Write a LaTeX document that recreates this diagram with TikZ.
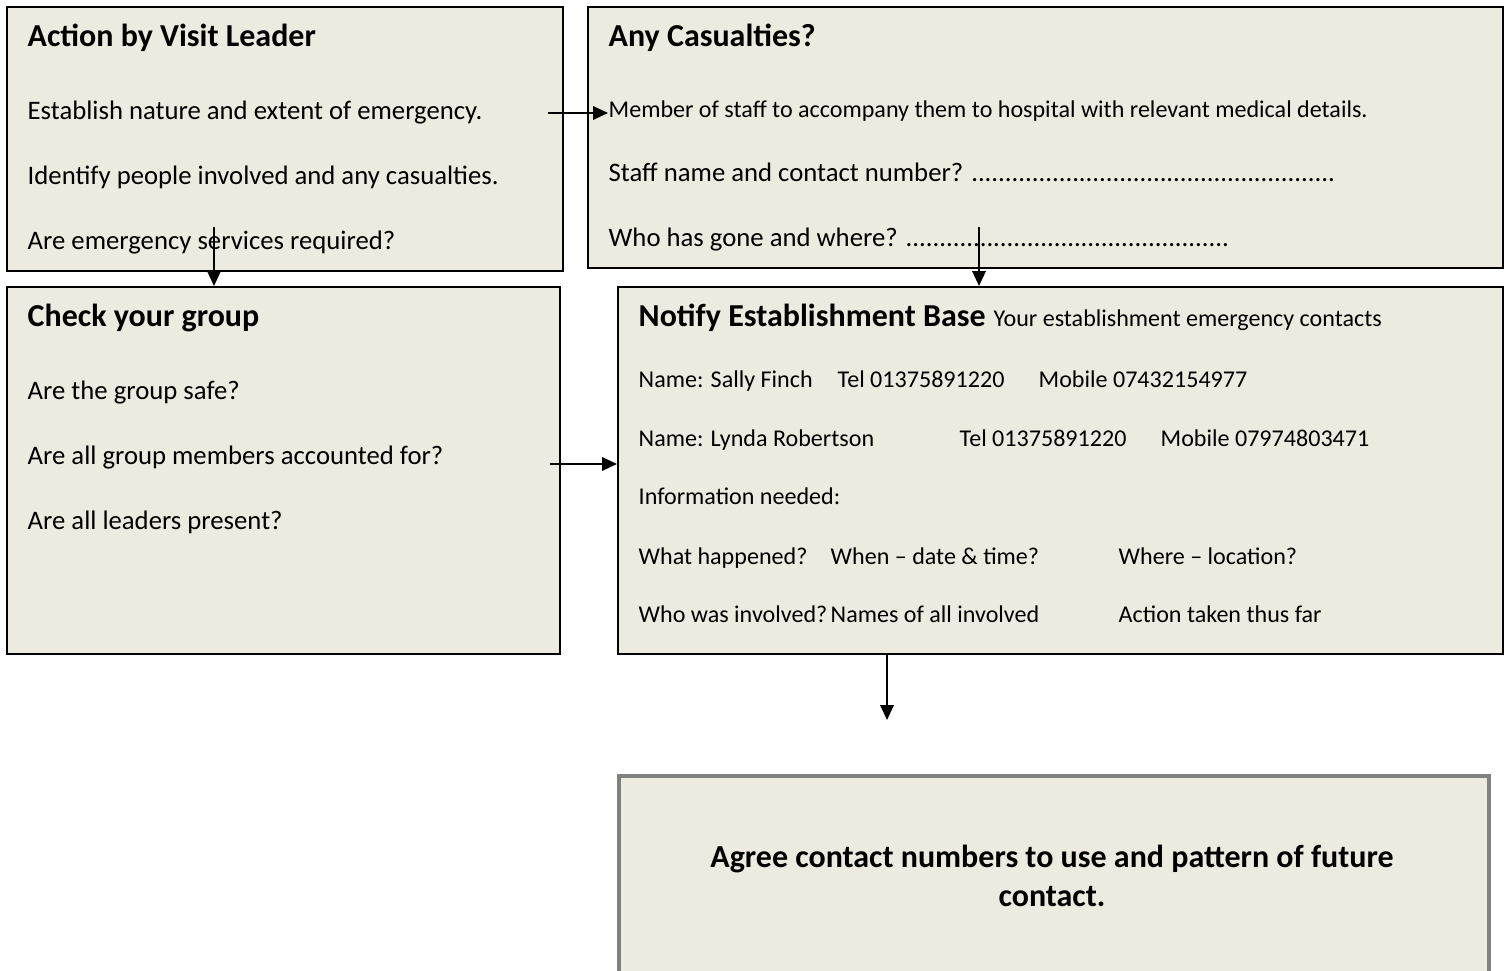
\documentclass[tikz,border=0pt]{standalone}
\usepackage{fontspec}
\setmainfont{Carlito}
\usetikzlibrary{arrows, arrows.meta}
\definecolor{boxfill}{RGB}{237,234,224}
\tikzstyle{box} =[rectangle, anchor=north west, draw=black, line width=0.7pt, fill=boxfill, inner sep=0pt]
\tikzstyle{greybox} =[rectangle, anchor=north west, draw=gray, line width=1.1pt, fill=boxfill, inner sep=0pt]
\tikzstyle{head} =[anchor=base west, inner sep=0pt, font=\bfseries\fontsize{9.1}{10.9}\selectfont]
\tikzstyle{bodytxt} =[anchor=base west, inner sep=0pt, font=\fontsize{7.6}{9.1}\selectfont]
\tikzstyle{smalltxt} =[anchor=base west, inner sep=0pt, font=\fontsize{6.85}{8.2}\selectfont]
\tikzstyle{arrow} =[line width=0.45pt,-{Triangle[length=4.2pt,width=3.8pt]}]
\begin{document}
\begin{tikzpicture}
\useasboundingbox (0,0) rectangle (15.07,-9.71);
\node (lead) [box, minimum width=5.56cm, minimum height=2.64cm] at (0.06,-0.06) {};
\node (cas) [box, minimum width=9.15cm, minimum height=2.61cm] at (5.87,-0.06) {};
\node (chk) [box, minimum width=5.53cm, minimum height=3.67cm] at (0.06,-2.86) {};
\node (note) [box, minimum width=8.85cm, minimum height=3.67cm] at (6.17,-2.86) {};
\node (agree) [greybox, minimum width=8.70cm, minimum height=2.4cm] at (6.17,-7.74) {};
\node (leadh) [head] at (0.27,-0.47) {Action by Visit Leader};
\node (lead1) [bodytxt] at (0.27,-1.20) {Establish nature and extent of emergency.};
\node (lead2) [bodytxt] at (0.27,-1.85) {Identify people involved and any casualties.};
\node (lead3) [bodytxt] at (0.27,-2.50) {Are emergency services required?};
\node (cash) [head] at (6.08,-0.47) {Any Casualties?};
\node (cas1) [smalltxt] at (6.08,-1.18) {Member of staff to accompany them to hospital with relevant medical details.};
\node (cas2) [bodytxt] at (6.08,-1.82) {Staff name and contact number? ......................................................};
\node (cas3) [bodytxt] at (6.08,-2.47) {Who has gone and where? ................................................};
\node (chkh) [head] at (0.27,-3.27) {Check your group};
\node (chk1) [bodytxt] at (0.27,-4.00) {Are the group safe?};
\node (chk2) [bodytxt] at (0.27,-4.65) {Are all group members accounted for?};
\node (chk3) [bodytxt] at (0.27,-5.30) {Are all leaders present?};
\node (noteh) [head] at (6.38,-3.27) {Notify Establishment Base};
\node (notes) [smalltxt] at (9.93,-3.27) {Your establishment emergency contacts};
\node (name1) [smalltxt] at (6.38,-3.88) {Name: Sally Finch};
\node (tel1) [smalltxt] at (8.37,-3.88) {Tel 01375891220};
\node (mob1) [smalltxt] at (10.38,-3.88) {Mobile 07432154977};
\node (name2) [smalltxt] at (6.38,-4.47) {Name: Lynda Robertson};
\node (tel2) [smalltxt] at (9.59,-4.47) {Tel 01375891220};
\node (mob2) [smalltxt] at (11.60,-4.47) {Mobile 07974803471};
\node (info) [smalltxt] at (6.38,-5.05) {Information needed:};
\node (what) [smalltxt] at (6.38,-5.65) {What happened?};
\node (when) [smalltxt] at (8.30,-5.65) {When -- date \& time?};
\node (where) [smalltxt] at (11.18,-5.65) {Where -- location?};
\node (who) [smalltxt] at (6.38,-6.23) {Who was involved?};
\node (names) [smalltxt] at (8.30,-6.23) {Names of all involved};
\node (done) [smalltxt] at (11.18,-6.23) {Action taken thus far};
\node (agreetxt) [align=center, font=\bfseries\fontsize{9.1}{11.1}\selectfont] at (10.52,-8.755) {Agree contact numbers to use and pattern of future\\contact.};
\coordinate (a1) at (5.48,-1.13);
\coordinate (a2) at (2.14,-2.27);
\coordinate (a3) at (9.79,-2.27);
\coordinate (a4) at (5.50,-4.64);
\coordinate (a5) at (8.87,-7.20);
\draw [arrow] (a1) -- (a1 -| cas1.west);
\draw [arrow] (a2) -- (a2 |- chk.north);
\draw [arrow] (a3) -- (a3 |- note.north);
\draw [arrow] (a4) -- (a4 -| note.west);
\draw [arrow] (a5 |- note.south) -- (a5);
\end{tikzpicture}
\end{document}
